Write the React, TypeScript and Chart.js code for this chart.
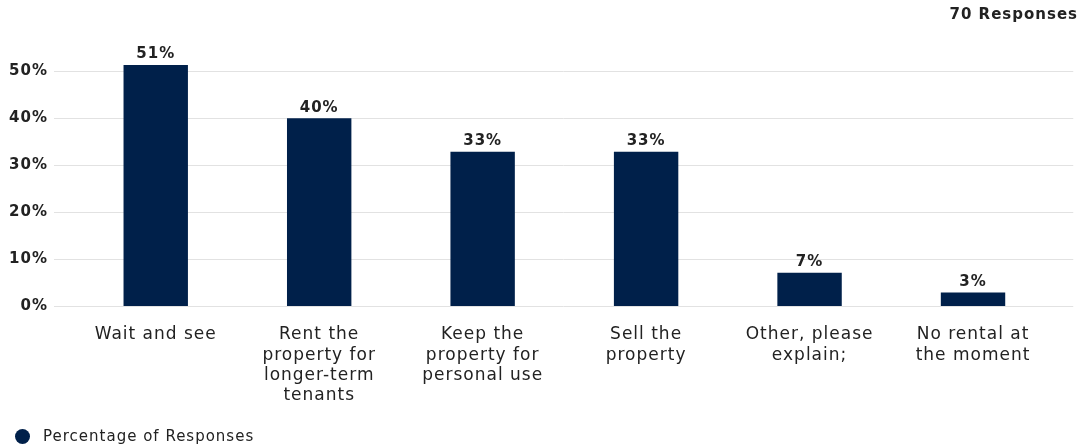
import React, { useEffect, useRef } from 'react';
import { Chart, registerables } from 'chart.js';

Chart.register(...registerables);

const categories: string[][] = [
  ['Wait and see'],
  ['Rent the', 'property for', 'longer-term', 'tenants'],
  ['Keep the', 'property for', 'personal use'],
  ['Sell the', 'property'],
  ['Other, please', 'explain;'],
  ['No rental at', 'the moment'],
];
const percentages = [51.4, 40.0, 32.9, 32.9, 7.1, 2.9];
const valueLabels = ['51%', '40%', '33%', '33%', '7%', '3%'];
const yTicks = [0, 10, 20, 30, 40, 50];
const seriesName = 'Percentage of Responses';
const titleText = '70 Responses';

const FONT = "'DejaVu Sans', sans-serif";
const TEXT = '#222222';
const BAR = '#00204A';
const GRID = '#e2e2e2';

const spacingPlugin = {
  id: 'letterSpacing',
  beforeInit(chart: any) {
    chart.ctx.letterSpacing = '1px';
  },
  beforeUpdate(chart: any) {
    chart.ctx.letterSpacing = '1px';
  },
  beforeDraw(chart: any) {
    chart.ctx.letterSpacing = '1px';
  },
};

const gridPlugin = {
  id: 'wideGrid',
  beforeDatasetsDraw(chart: any) {
    const { ctx, chartArea } = chart;
    const y = chart.scales.y;
    ctx.save();
    ctx.strokeStyle = GRID;
    ctx.lineWidth = 1;
    yTicks.forEach((v) => {
      const py = Math.round(y.getPixelForValue(v)) + 0.5;
      ctx.beginPath();
      ctx.moveTo(chartArea.left - 20, py);
      ctx.lineTo(chartArea.right + 18.5, py);
      ctx.stroke();
    });
    ctx.restore();
  },
};

const valueLabelPlugin = {
  id: 'valueLabels',
  afterDatasetsDraw(chart: any) {
    const { ctx } = chart;
    const meta = chart.getDatasetMeta(0);
    ctx.save();
    ctx.fillStyle = TEXT;
    ctx.font = `bold 15px ${FONT}`;
    ctx.textAlign = 'center';
    ctx.textBaseline = 'alphabetic';
    meta.data.forEach((bar: any, i: number) => {
      ctx.fillText(valueLabels[i], bar.x, bar.y - 6.5);
    });
    ctx.restore();
  },
};

export default function App() {
  const ref = useRef<HTMLCanvasElement | null>(null);

  useEffect(() => {
    if (!ref.current) return;
    const chart = new Chart(ref.current, {
      type: 'bar',
      data: {
        labels: categories,
        datasets: [
          {
            label: seriesName,
            data: percentages,
            backgroundColor: BAR,
            borderWidth: 0,
            categoryPercentage: 1,
            barPercentage: 0.394,
          },
        ],
      },
      options: {
        responsive: false,
        animation: false,
        layout: { padding: { left: 0, right: 4, top: 0, bottom: 27 } },
        scales: {
          x: {
            grid: { display: false, drawTicks: false },
            border: { display: false },
            ticks: {
              color: TEXT,
              padding: 18.5,
              font: { family: FONT, size: 17, lineHeight: 1.2 },
              maxRotation: 0,
              autoSkip: false,
            },
            afterFit(scale: any) {
              scale.height = 113;
            },
          },
          y: {
            min: 0,
            max: 55,
            grid: { display: false, drawTicks: false },
            border: { display: false },
            afterBuildTicks(scale: any) {
              scale.ticks = yTicks.map((v) => ({ value: v }));
            },
            ticks: {
              color: TEXT,
              padding: 26,
              font: { family: FONT, size: 15, weight: 'bold' },
              callback: (v: any) => `${v}%`,
            },
            afterFit(scale: any) {
              scale.width = 74;
            },
          },
          yRight: {
            type: 'linear',
            position: 'right',
            display: true,
            grid: { display: false, drawTicks: false },
            border: { display: false },
            ticks: { display: false },
            afterFit(scale: any) {
              scale.width = 23.25;
            },
          },
        },
        plugins: {
          tooltip: { enabled: false },
          title: {
            display: true,
            text: titleText,
            align: 'end',
            color: TEXT,
            font: { family: FONT, size: 15, weight: 'bold', lineHeight: 1.2 },
            padding: { top: 6, bottom: 24 },
          },
          legend: { display: false },
        },
      } as any,
      plugins: [spacingPlugin, gridPlugin, valueLabelPlugin],
    });
    return () => chart.destroy();
  }, []);

  return (
    <div style={{ position: 'absolute', left: 0, top: 0, width: 1082, height: 446, overflow: 'hidden' }}>
      <canvas ref={ref} width={1082} height={446} style={{ display: 'block' }} />
      <div
        style={{
          position: 'absolute',
          left: 15,
          top: 429,
          width: 15,
          height: 15,
          borderRadius: '50%',
          background: BAR,
        }}
      />
      <div
        style={{
          position: 'absolute',
          left: 43,
          top: 427,
          height: 18,
          lineHeight: '18px',
          fontFamily: FONT,
          fontSize: 15,
          letterSpacing: '1px',
          color: TEXT,
          whiteSpace: 'nowrap',
        }}
      >
        {seriesName}
      </div>
    </div>
  );
}
